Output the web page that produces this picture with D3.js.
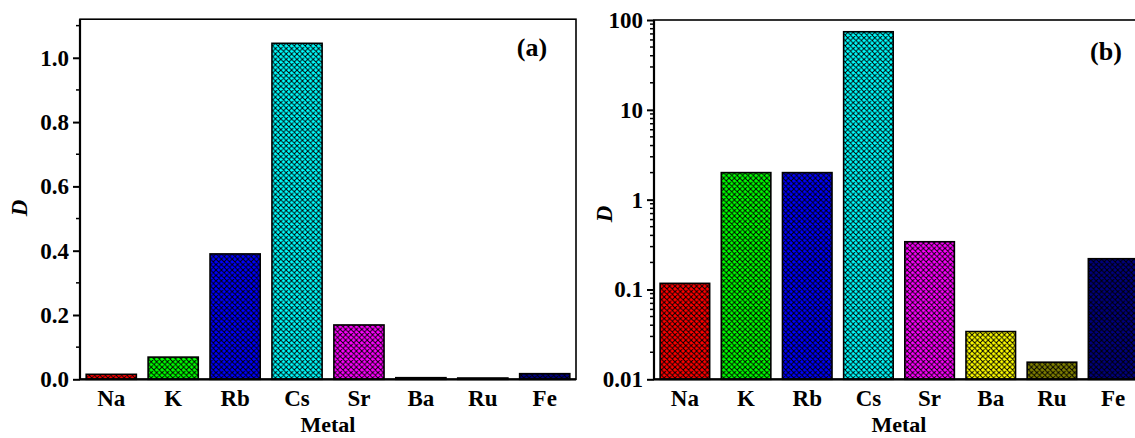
<!DOCTYPE html>
<html>
<head>
<meta charset="utf-8">
<script src="https://cdn.jsdelivr.net/npm/d3@7"></script>
<style>
  body { margin: 0; background: #fff; }
  svg text { font-family: "Liberation Serif", "Times New Roman", serif; font-weight: bold; fill: #000; }
</style>
</head>
<body>
<script>
const metals = ["Na", "K", "Rb", "Cs", "Sr", "Ba", "Ru", "Fe"];
const colors = ["#ff0000", "#00ff00", "#0000ff", "#00ffff", "#ff00ff", "#ffff00", "#808000", "#000080"];
// panel (a), linear axis
const valuesA = [0.0155, 0.069, 0.39, 1.045, 0.169, 0.005, 0.004, 0.0175];
// panel (b), log axis
const valuesB = [0.117, 2.0, 2.0, 74, 0.34, 0.034, 0.0155, 0.22];
const ticksA = [0, 0.2, 0.4, 0.6, 0.8, 1.0];
const minorA = [0.1, 0.3, 0.5, 0.7, 0.9, 1.1];
const ticksB = [0.01, 0.1, 1, 10, 100];
const labelsB = ["0.01", "0.1", "1", "10", "100"];

const width = 1135, height = 438;
const font = "'Liberation Serif', 'Times New Roman', serif";

const svg = d3.select("body").append("svg")
    .attr("width", width)
    .attr("height", height);

// crosshatch fill for each colour
const defs = svg.append("defs");
colors.forEach(function(c, i) {
    const p = defs.append("pattern")
        .attr("id", "hatch" + i)
        .attr("patternUnits", "userSpaceOnUse")
        .attr("width", 5.4)
        .attr("height", 5.4);
    p.append("rect").attr("width", 5.4).attr("height", 5.4).attr("fill", c);
    p.append("path")
        .attr("d", "M0,0L5.4,5.4M5.4,0L0,5.4M-1,1L1,-1M4.4,6.4L6.4,4.4M-1,4.4L1,6.4M4.4,-1L6.4,1")
        .attr("stroke", "#000")
        .attr("stroke-width", 0.95);
});

function panel(opts) {
    const g = svg.append("g");
    const x = d3.scaleBand()
        .domain(metals)
        .range([opts.left, opts.right])
        .paddingInner(0.19)
        .paddingOuter(0.1);
    const y = opts.y;
    const base = y.range()[0];

    g.selectAll("rect.bar")
        .data(metals)
        .enter()
        .append("rect")
        .attr("class", "bar")
        .attr("x", d => x(d))
        .attr("width", x.bandwidth())
        .attr("y", (d, i) => y(opts.values[i]))
        .attr("height", (d, i) => Math.max(1, base - y(opts.values[i])))
        .attr("fill", (d, i) => "url(#hatch" + i + ")")
        .attr("stroke", "#000")
        .attr("stroke-width", 1.6);

    // frame
    g.append("rect")
        .attr("x", opts.left)
        .attr("y", y.range()[1])
        .attr("width", opts.right - opts.left)
        .attr("height", base - y.range()[1])
        .attr("fill", "none")
        .attr("stroke", "#000")
        .attr("stroke-width", 1.6);

    g.append("line")
        .attr("x1", opts.left).attr("x2", opts.right)
        .attr("y1", base).attr("y2", base)
        .attr("stroke", "#000").attr("stroke-width", 2.2);
    g.append("line")
        .attr("x1", opts.left).attr("x2", opts.left)
        .attr("y1", base).attr("y2", y.range()[1])
        .attr("stroke", "#000").attr("stroke-width", 2.2);

    // y axis ticks
    const yAxis = d3.axisLeft(y)
        .tickValues(opts.ticks)
        .tickFormat((d, i) => opts.tickLabels[i])
        .tickSize(7)
        .tickPadding(4);
    const ax = g.append("g")
        .attr("transform", "translate(" + opts.left + ",0)")
        .call(yAxis)
        .attr("font-family", font)
        .attr("font-size", 23)
        .attr("font-weight", "bold");
    ax.select(".domain").remove();
    ax.selectAll(".tick line").attr("stroke-width", 2);

    g.append("g").selectAll("line")
        .data(opts.minor)
        .enter()
        .append("line")
        .attr("x1", opts.left - 4)
        .attr("x2", opts.left)
        .attr("y1", d => y(d))
        .attr("y2", d => y(d))
        .attr("stroke", "#000")
        .attr("stroke-width", 1.5);

    // category labels
    g.append("g").selectAll("text")
        .data(metals)
        .enter()
        .append("text")
        .attr("x", d => x(d) + x.bandwidth() / 2)
        .attr("y", 406)
        .attr("text-anchor", "middle")
        .style("font-size", "23px")
        .text(d => d);

    g.append("text")
        .attr("x", (opts.left + opts.right) / 2)
        .attr("y", 432)
        .attr("text-anchor", "middle")
        .style("font-size", "22px")
        .text("Metal");

    g.append("text")
        .attr("transform", "translate(" + opts.dx + "," + opts.dy + ") rotate(-90)")
        .attr("text-anchor", "middle")
        .style("font-size", "23px")
        .style("font-style", "italic")
        .text("D");

    g.append("text")
        .attr("x", opts.tagX)
        .attr("y", opts.tagY)
        .attr("text-anchor", "middle")
        .style("font-size", "26px")
        .text(opts.tag);
}

const yA = d3.scaleLinear().domain([0, 1.12]).range([379.3, 19.2]);
panel({
    left: 80, right: 576,
    y: yA,
    values: valuesA,
    ticks: ticksA,
    tickLabels: ticksA.map(d3.format(".1f")),
    minor: minorA,
    dx: 27, dy: 208,
    tag: "(a)", tagX: 532, tagY: 56
});

const yB = d3.scaleLog().domain([0.01, 100]).range([379.3, 20]);
const minorB = [];
[0.01, 0.1, 1, 10].forEach(function(dec) {
    for (let k = 2; k <= 9; k++) minorB.push(dec * k);
});
panel({
    left: 654, right: 1144,
    y: yB,
    values: valuesB,
    ticks: ticksB,
    tickLabels: labelsB,
    minor: minorB,
    dx: 612, dy: 214,
    tag: "(b)", tagX: 1106, tagY: 60
});
</script>
</body>
</html>
